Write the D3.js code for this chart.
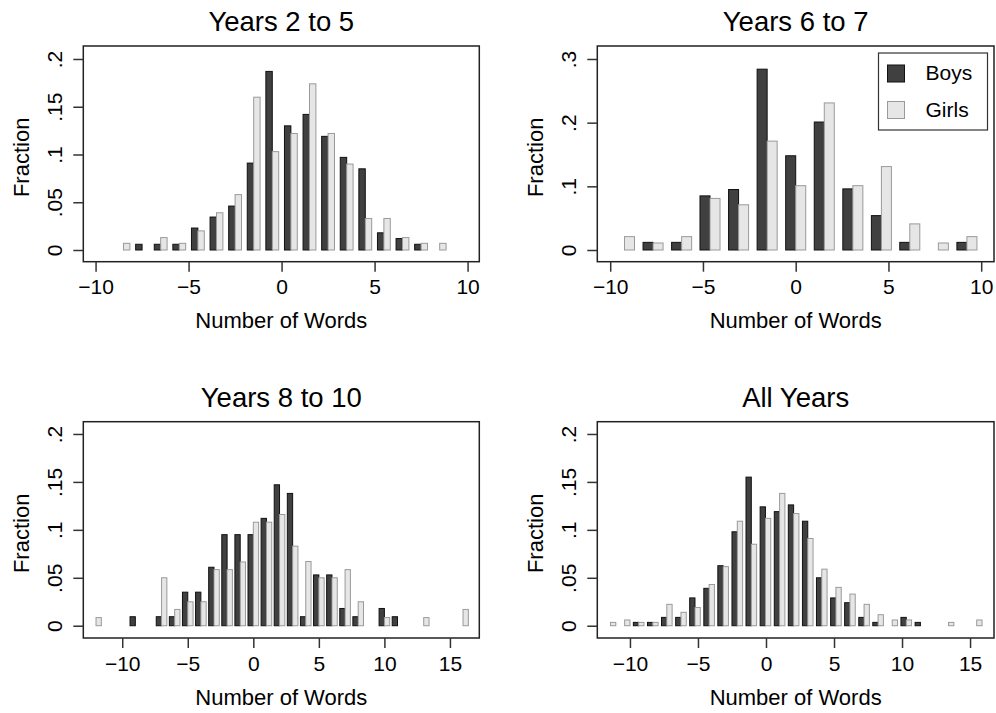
<!DOCTYPE html>
<html>
<head>
<meta charset="utf-8">
<script src="https://cdn.jsdelivr.net/npm/d3@7"></script>
<style>
  html, body { margin: 0; padding: 0; background: #fff; }
  svg { display: block; font-family: "Liberation Sans", Arial, Helvetica, sans-serif; }
</style>
</head>
<body>
<svg id="chart" width="996" height="713"></svg>
<script>
// ---------------- DATA ----------------
const titles = ["Years 2 to 5", "Years 6 to 7", "Years 8 to 10", "All Years"];
const seriesNames = ["Boys", "Girls"];
const xLabel = "Number of Words";
const yLabel = "Fraction";

// Panel 1: Years 2 to 5
const p1Centers = [-8.5,-7.5,-6.5,-5.5,-4.5,-3.5,-2.5,-1.5,-0.5,0.5,1.5,2.5,3.5,4.5,5.5,6.5,7.5,8.5];
const p1Boys    = [0,0.006,0.006,0.006,0.023,0.0345,0.046,0.091,0.187,0.130,0.142,0.119,0.097,0.085,0.018,0.012,0.006,0];
const p1Girls   = [0.007,0,0.013,0.007,0.020,0.039,0.058,0.160,0.103,0.122,0.174,0.122,0.090,0.033,0.033,0.013,0.007,0.007];

// Panel 2: Years 6 to 7
const p2Centers = [-9.23,-7.69,-6.15,-4.62,-3.08,-1.54,0,1.54,3.08,4.62,6.15,7.69,9.23];
const p2Boys    = [0,0.012,0.012,0.085,0.095,0.284,0.148,0.201,0.096,0.054,0.012,0,0.012];
const p2Girls   = [0.021,0.011,0.021,0.081,0.071,0.171,0.101,0.231,0.101,0.131,0.041,0.011,0.021];

// Panel 3: Years 8 to 10
const p3Centers = [-12,-9,-7,-6,-5,-4,-3,-2,-1,0,1,2,3,4,5,6,7,8,10,11,13,16];
const p3Boys    = [0,0.0094,0.0094,0.0094,0.035,0.035,0.061,0.095,0.095,0.095,0.112,0.147,0.138,0.0094,0.053,0.053,0.018,0.0094,0.018,0.0094,0,0];
const p3Girls   = [0.0085,0,0.050,0.017,0.025,0.025,0.0585,0.0585,0.0665,0.108,0.108,0.116,0.083,0.067,0.050,0.050,0.0585,0.025,0.0085,0,0.0085,0.017];

// Panel 4: All Years
const p4Centers = [-11.43,-10.39,-9.36,-8.32,-7.29,-6.25,-5.22,-4.18,-3.15,-2.11,-1.08,-0.04,1.0,2.03,3.07,4.10,5.14,6.17,7.21,8.24,9.28,10.31,11.35,13.42,15.49];
const p4Boys    = [0,0,0.0035,0.0035,0.0087,0.0087,0.029,0.039,0.0626,0.098,0.155,0.124,0.119,0.126,0.109,0.050,0.029,0.024,0.0087,0.0035,0,0.0087,0.0035,0,0];
const p4Girls   = [0.0035,0.006,0.0035,0.0035,0.0223,0.014,0.019,0.043,0.0616,0.109,0.085,0.112,0.138,0.117,0.091,0.059,0.040,0.033,0.0223,0.0115,0.006,0.006,0,0.0035,0.006];

// Tick values
const xTicksA = [-10,-5,0,5,10];
const xTicksB = [-10,-5,0,5,10,15];
const yTicksA = [0,0.05,0.1,0.15,0.2];
const yTicksB = [0,0.1,0.2,0.3];

// ---------------- LAYOUT / STYLE ----------------
const boyFill = "#404040", boyStroke = "#111";
const girlFill = "#e6e6e6", girlStroke = "#9a9a9a";
const frameColor = "#222";
const font = "Liberation Sans, Arial, Helvetica, sans-serif";

const panels = [
  { title: titles[0], centers: p1Centers, boys: p1Boys, girls: p1Girls,
    box: [83.3, 46, 479.3, 261.7], xDom: [-10.66, 10.63], yDom: [-0.01225, 0.2136],
    bw: 0.345, xTicks: xTicksA, yTicks: yTicksA, legend: false },
  { title: titles[1], centers: p2Centers, boys: p2Boys, girls: p2Girls,
    box: [597.3, 46, 994, 261.7], xDom: [-10.696, 10.69], yDom: [-0.01838, 0.3204],
    bw: 0.54, xTicks: xTicksA, yTicks: yTicksB, legend: true },
  { title: titles[2], centers: p3Centers, boys: p3Boys, girls: p3Girls,
    box: [83.3, 421.7, 479.3, 638], xDom: [-12.97, 17.24], yDom: [-0.0128, 0.2128],
    bw: 0.405, xTicks: xTicksB, yTicks: yTicksA, legend: false },
  { title: titles[3], centers: p4Centers, boys: p4Boys, girls: p4Girls,
    box: [597.3, 421.7, 994, 638], xDom: [-12.40, 16.76], yDom: [-0.0128, 0.2128],
    bw: 0.39, xTicks: xTicksB, yTicks: yTicksA, legend: false }
];

const svg = d3.select("#chart");
svg.append("rect").attr("width", 996).attr("height", 713).attr("fill", "#fff");

const yFmt = v => v === 0 ? "0" : String(+v.toFixed(3)).replace(/^0/, "");
const xFmt = d3.format("d");

panels.forEach(p => {
  const [x0, y0, x1, y1] = p.box;
  const xs = d3.scaleLinear().domain(p.xDom).range([x0, x1]);
  const ys = d3.scaleLinear().domain(p.yDom).range([y1, y0]);
  const g = svg.append("g");

  // bars
  const data = p.centers.map((c, i) => ({ c, b: p.boys[i], gl: p.girls[i] }));
  g.append("g").selectAll("rect.boy")
    .data(data.filter(d => d.b > 0)).join("rect")
    .attr("x", d => xs(d.c - p.bw))
    .attr("width", d => xs(d.c) - xs(d.c - p.bw))
    .attr("y", d => ys(d.b))
    .attr("height", d => ys(0) - ys(d.b))
    .attr("fill", boyFill).attr("stroke", boyStroke).attr("stroke-width", 1);
  g.append("g").selectAll("rect.girl")
    .data(data.filter(d => d.gl > 0)).join("rect")
    .attr("x", d => xs(d.c))
    .attr("width", d => xs(d.c + p.bw) - xs(d.c))
    .attr("y", d => ys(d.gl))
    .attr("height", d => ys(0) - ys(d.gl))
    .attr("fill", girlFill).attr("stroke", girlStroke).attr("stroke-width", 1);

  // frame
  g.append("rect").attr("x", x0).attr("y", y0)
    .attr("width", x1 - x0).attr("height", y1 - y0)
    .attr("fill", "none").attr("stroke", frameColor).attr("stroke-width", 1.5);

  // x axis
  const xa = g.append("g").attr("transform", `translate(0,${y1})`)
    .call(d3.axisBottom(xs).tickValues(p.xTicks).tickFormat(xFmt).tickSize(10).tickSizeOuter(0));
  xa.select(".domain").remove();
  xa.selectAll(".tick line").attr("stroke", "#333").attr("stroke-width", 1.5);
  xa.selectAll(".tick text").attr("y", 32.5).attr("dy", null)
    .attr("font-size", 21).attr("font-family", font).attr("fill", "#000");

  // y axis
  const ya = g.append("g").attr("transform", `translate(${x0},0)`)
    .call(d3.axisLeft(ys).tickValues(p.yTicks).tickFormat(yFmt).tickSize(10).tickSizeOuter(0));
  ya.select(".domain").remove();
  ya.selectAll(".tick line").attr("stroke", "#333").attr("stroke-width", 1.5);
  ya.selectAll(".tick text")
    .attr("x", 0).attr("y", -21).attr("dy", null)
    .attr("transform", "rotate(-90)")
    .attr("text-anchor", "middle")
    .attr("font-size", 21).attr("font-family", font).attr("fill", "#000");

  // titles and labels
  const cx = (x0 + x1) / 2;
  g.append("text").attr("x", cx).attr("y", y0 - 15)
    .attr("text-anchor", "middle").attr("font-size", 27.5).attr("fill", "#000")
    .text(p.title);
  g.append("text").attr("x", cx).attr("y", y1 + 66.5)
    .attr("text-anchor", "middle").attr("font-size", 22).attr("fill", "#000")
    .text(xLabel);
  const cy = (y0 + y1) / 2 + 3.5;
  g.append("text").attr("transform", `translate(${x0 - 54},${cy}) rotate(-90)`)
    .attr("text-anchor", "middle").attr("font-size", 22).attr("fill", "#000")
    .text(yLabel);

  // legend
  if (p.legend) {
    const lg = g.append("g");
    lg.append("rect").attr("x", 878.5).attr("y", 53).attr("width", 109).attr("height", 77)
      .attr("fill", "#fff").attr("stroke", "#333").attr("stroke-width", 1.2);
    const fills = [boyFill, girlFill], strokes = [boyStroke, girlStroke];
    seriesNames.forEach((n, i) => {
      lg.append("rect").attr("x", 887.5).attr("y", 65 + i * 36.5).attr("width", 17).attr("height", 17)
        .attr("fill", fills[i]).attr("stroke", strokes[i]).attr("stroke-width", 1);
      lg.append("text").attr("x", 925.5).attr("y", 80 + i * 37).attr("font-size", 21)
        .attr("fill", "#000").text(n);
    });
  }
});
</script>
</body>
</html>
